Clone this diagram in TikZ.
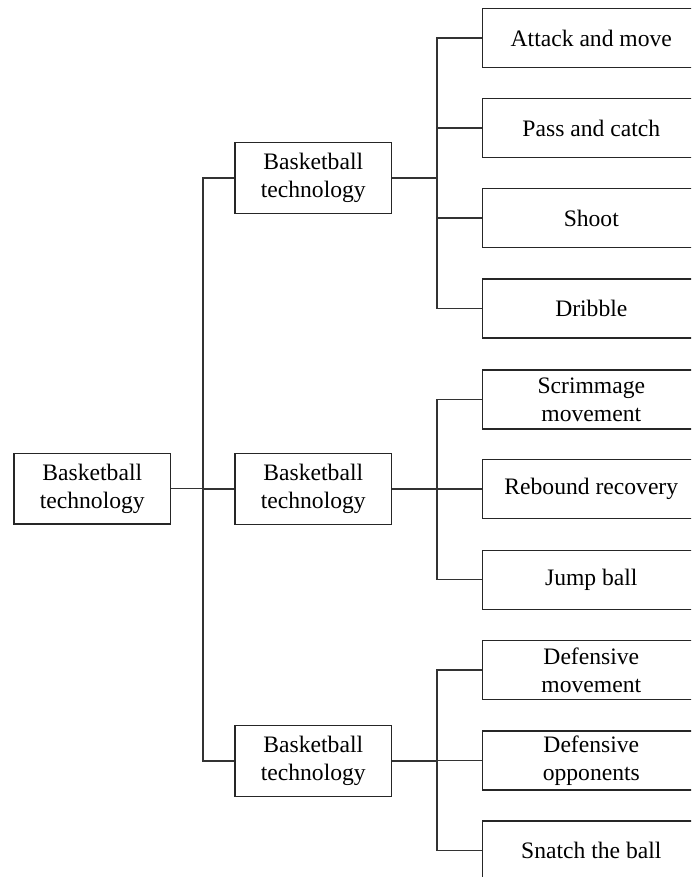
\documentclass[tikz,border=0pt]{standalone}
\usepackage{fontspec}
\setmainfont{Liberation Serif}
\begin{document}
\begin{tikzpicture}[x=1pt,y=-1pt,
  box/.style={draw=black!85,line width=1.4pt,align=center,inner sep=0pt,
    font=\fontsize{23.6}{28}\selectfont},
  mbox/.style={box,minimum width=156.7pt,minimum height=70.7pt},
  lbox/.style={box,minimum width=218pt,minimum height=59pt},
  conn/.style={draw=black!80,line width=1.4pt}]
\useasboundingbox (0,0) rectangle (691,877);
\clip (0,0) rectangle (691,877);
\node[mbox] (root) at (92.3,488.7) {Basketball\\technology};
\node[mbox] (m1) at (313.3,178) {Basketball\\technology};
\node[mbox] (m2) at (313.3,489) {Basketball\\technology};
\node[mbox] (m3) at (313.3,761) {Basketball\\technology};
\node[lbox] (l1) at (591.3,38) {Attack and move};
\node[lbox] (l2) at (591.3,128) {Pass and catch};
\node[lbox] (l3) at (591.3,218) {Shoot};
\node[lbox] (l4) at (591.3,308.5) {Dribble};
\node[lbox] (l5) at (591.3,399.3) {Scrimmage\\movement};
\node[lbox] (l6) at (591.3,489) {Rebound recovery};
\node[lbox] (l7) at (591.3,579.7) {Jump ball};
\node[lbox] (l8) at (591.3,670) {Defensive\\movement};
\node[lbox] (l9) at (591.3,760.3) {Defensive\\opponents};
\node[lbox] (l10) at (591.3,850.5) {Snatch the ball};
\coordinate (a) at (203,0);
\coordinate (b) at (437,0);
% root trunk
\draw[conn] (root.east) -- (root.east -| a);
\draw[conn] (m1.west) -| (a |- m3.west) -- (m3.west);
\draw[conn] (m2.west) -- (m2.west -| a);
% group 1
\draw[conn] (m1.east) -- (m1.east -| b);
\draw[conn] (l1.west) -| (b |- l4.west) -- (l4.west);
\draw[conn] (l2.west) -- (l2.west -| b);
\draw[conn] (l3.west) -- (l3.west -| b);
% group 2
\draw[conn] (m2.east) -- (m2.east -| b);
\draw[conn] (l5.west) -| (b |- l7.west) -- (l7.west);
\draw[conn] (l6.west) -- (l6.west -| b);
% group 3
\draw[conn] (m3.east) -- (m3.east -| b);
\draw[conn] (l8.west) -| (b |- l10.west) -- (l10.west);
\draw[conn] (l9.west) -- (l9.west -| b);
\end{tikzpicture}
\end{document}
